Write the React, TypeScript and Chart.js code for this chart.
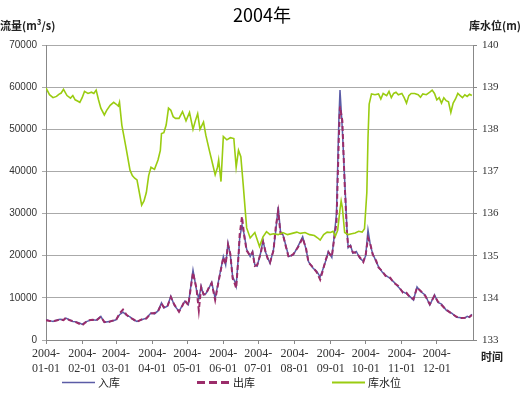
import React, { useEffect, useRef } from "react";
import { Chart, registerables } from "chart.js";

Chart.register(...registerables);

const TITLE = "2004年";
const monthStartDays = [0, 31, 60, 91, 121, 152, 182, 213, 244, 274, 305, 335];
const monthLabels = ["01-01", "02-01", "03-01", "04-01", "05-01", "06-01", "07-01", "08-01", "09-01", "10-01", "11-01", "12-01"];

const flowDays = [0, 3, 6, 9, 12, 15, 17, 20, 23, 26, 29, 31, 34, 37, 40, 43, 47, 50, 54, 57, 60, 63, 66, 69, 72, 75, 78, 82, 86, 90, 93, 96, 99, 101, 104, 107, 110, 114, 117, 119, 122, 126, 129, 131, 133, 135, 137, 140, 142, 145, 148, 152, 154, 156, 158, 160, 162, 163, 165, 166, 168, 170, 172, 175, 177, 179, 181, 184, 186, 188, 190, 192, 195, 197, 199, 201, 203, 205, 208, 212, 216, 220, 223, 225, 229, 232, 235, 237, 240, 242, 245, 247, 249, 251, 252, 254, 256, 258, 259, 261, 263, 266, 269, 272, 274, 276, 278, 280, 283, 285, 288, 291, 295, 298, 302, 306, 309, 312, 315, 318, 321, 325, 329, 333, 336, 339, 343, 348, 352, 356, 359, 361, 363, 365];

const inflow = [4800, 4600, 4400, 4700, 4900, 4800, 5200, 4800, 4400, 4300, 4000, 3700, 4300, 4600, 4800, 4700, 5600, 4200, 4400, 4500, 4800, 6000, 6600, 5900, 5500, 4800, 4400, 4800, 5200, 6400, 6200, 6900, 8800, 7600, 8000, 10400, 8200, 6800, 8300, 9200, 8400, 16600, 11900, 9800, 12800, 10700, 11000, 12500, 13700, 9900, 14200, 19800, 17800, 23000, 20200, 15000, 13800, 12800, 20200, 24100, 27300, 24900, 21500, 19800, 21000, 17800, 17500, 20700, 23700, 21000, 19500, 18200, 21500, 26000, 31600, 25700, 25000, 23000, 19800, 20200, 22200, 24500, 21400, 18600, 17000, 16300, 15000, 16500, 19000, 21000, 19600, 24500, 30000, 52000, 59300, 50000, 38000, 26100, 21900, 22500, 20600, 21000, 19400, 18700, 20000, 26100, 22500, 20500, 18600, 17400, 16200, 15400, 14600, 13800, 12600, 11400, 11000, 10300, 9500, 12600, 11500, 10700, 8300, 10700, 8900, 8500, 7100, 6300, 5400, 5300, 5200, 5600, 5400, 6100];

const outflow = [4700, 4500, 4500, 4600, 4900, 4700, 5300, 4700, 4500, 4200, 3800, 3500, 4200, 4700, 4800, 4600, 5500, 4300, 4300, 4600, 4700, 6300, 7200, 6000, 5300, 4900, 4300, 4900, 5100, 6300, 6400, 6800, 8600, 7800, 7900, 10200, 8400, 6700, 8200, 9400, 8300, 16000, 12200, 7000, 12500, 10900, 10800, 12700, 13500, 9500, 14000, 19600, 18000, 22600, 20400, 14600, 13200, 12300, 19800, 25000, 29300, 24500, 21200, 20000, 20800, 17600, 17800, 20500, 23300, 21200, 19300, 18400, 21200, 27000, 30500, 25200, 25200, 22800, 19600, 20400, 22000, 24200, 21600, 18400, 17200, 16100, 14300, 16200, 19200, 20800, 19800, 24000, 28000, 48000, 55400, 52000, 37000, 25500, 22200, 22300, 20800, 20700, 19600, 18500, 20200, 24200, 22800, 20300, 18800, 17200, 16400, 15200, 14800, 13600, 12800, 11200, 11200, 10100, 9700, 12400, 11700, 10500, 8500, 10500, 9100, 8300, 7200, 6200, 5500, 5200, 5300, 5400, 5500, 5900];

const levelDays = [0, 3, 6, 9, 11, 13, 15, 18, 21, 23, 25, 27, 29, 31, 33, 36, 39, 41, 43, 45, 47, 50, 52, 55, 58, 60, 62, 63, 65, 67, 69, 72, 74, 76, 78, 80, 82, 84, 86, 88, 90, 93, 96, 98, 99, 101, 103, 105, 107, 109, 111, 114, 117, 120, 123, 126, 128, 130, 132, 135, 137, 140, 142, 145, 147, 148, 150, 152, 155, 158, 161, 163, 165, 167, 169, 171, 172, 175, 179, 183, 186, 189, 192, 195, 199, 203, 207, 211, 215, 218, 222, 226, 230, 233, 235, 238, 241, 244, 246, 248, 250, 252, 253, 254, 256, 259, 262, 265, 268, 271, 273, 275, 276, 277, 279, 282, 285, 287, 289, 292, 294, 296, 298, 300, 302, 305, 307, 309, 311, 313, 316, 319, 321, 323, 326, 329, 331, 333, 335, 337, 339, 341, 343, 345, 347, 349, 351, 353, 355, 357, 359, 361, 363, 365];

const level = [138.98, 138.82, 138.75, 138.78, 138.83, 138.86, 138.95, 138.8, 138.74, 138.8, 138.7, 138.67, 138.64, 138.75, 138.9, 138.85, 138.88, 138.85, 138.93, 138.7, 138.5, 138.34, 138.45, 138.57, 138.64, 138.6, 138.55, 138.64, 138.1, 137.8, 137.5, 137.03, 136.9, 136.84, 136.8, 136.5, 136.2, 136.3, 136.5, 136.9, 137.1, 137.05, 137.27, 137.5, 137.9, 137.92, 138.1, 138.5, 138.45, 138.3, 138.26, 138.26, 138.42, 138.2, 138.4, 138.0, 138.2, 138.37, 138.0, 138.17, 137.86, 137.5, 137.27, 136.92, 137.1, 137.27, 136.76, 137.83, 137.75, 137.8, 137.78, 137.1, 137.5, 137.35, 136.7, 136.0, 135.66, 135.42, 135.55, 135.22, 135.45, 135.57, 135.5, 135.52, 135.5, 135.55, 135.5, 135.53, 135.56, 135.53, 135.55, 135.5, 135.48, 135.42, 135.37, 135.5, 135.56, 135.55, 135.58, 135.46, 135.6, 136.1, 136.3, 136.15, 135.55, 135.5, 135.52, 135.54, 135.58, 135.56, 135.64, 136.5, 137.8, 138.6, 138.84, 138.82, 138.84, 138.72, 138.85, 138.8, 138.9, 138.75, 138.85, 138.88, 138.82, 138.85, 138.75, 138.62, 138.8, 138.85, 138.85, 138.82, 138.76, 138.84, 138.82, 138.88, 138.93, 138.85, 138.7, 138.75, 138.62, 138.75, 138.68, 138.65, 138.4, 138.62, 138.72, 138.85, 138.8, 138.75, 138.82, 138.78, 138.83, 138.8];

const SERIES_NAMES = ["入库", "出库", "库水位"];
const COLORS = ["#5b5ca6", "#9b2c6a", "#9acc11"];

const CJK = "'Noto Sans CJK SC', sans-serif";

const overlayPlugin = {
  id: "overlay",
  afterDraw(chart: any) {
    const ctx = chart.ctx;
    ctx.save();
    ctx.fillStyle = "#000";
    ctx.textBaseline = "middle";
    ctx.textAlign = "center";
    ctx.font = `18px ${CJK}`;
    ctx.fillText(TITLE, 262, 15);

    ctx.font = `bold 11px ${CJK}`;
    ctx.textAlign = "left";
    ctx.fillStyle = "#222";
    ctx.fillText("流量(m³/s)", 0, 26);
    ctx.fillText("库水位(m)", 469, 26);
    ctx.textAlign = "center";
    ctx.fillText("时间", 492, 357);

    const items = [
      { x: 62, dash: [] as number[], w: 1.5 },
      { x: 197, dash: [8, 4], w: 3 },
      { x: 332, dash: [] as number[], w: 2 },
    ];
    const ly = 382.5;
    ctx.font = `11px ${CJK}`;
    ctx.textAlign = "left";
    items.forEach((it, i) => {
      ctx.beginPath();
      ctx.setLineDash(it.dash);
      ctx.strokeStyle = COLORS[i];
      ctx.lineWidth = it.w;
      ctx.moveTo(it.x, ly);
      ctx.lineTo(it.x + 33, ly);
      ctx.stroke();
      ctx.setLineDash([]);
      ctx.fillStyle = "#222";
      ctx.fillText(SERIES_NAMES[i], it.x + 36, ly);
    });
    ctx.restore();
  },
};

export default function App() {
  const ref = useRef<HTMLCanvasElement | null>(null);
  useEffect(() => {
    if (!ref.current) return;
    const toXY = (xs: number[], ys: number[]) => xs.map((x, i) => ({ x, y: ys[i] }));
    const chart = new Chart(ref.current, {
      type: "line",
      data: {
        datasets: [
          {
            label: SERIES_NAMES[2],
            data: toXY(levelDays, level),
            borderColor: COLORS[2],
            borderWidth: 1.6,
            pointRadius: 0,
            yAxisID: "y1",
            order: 0,
          },
          {
            label: SERIES_NAMES[1],
            data: toXY(flowDays, outflow),
            borderColor: COLORS[1],
            borderWidth: 2,
            borderDash: [5, 3],
            pointRadius: 0,
            yAxisID: "y",
            order: 1,
          },
          {
            label: SERIES_NAMES[0],
            data: toXY(flowDays, inflow),
            borderColor: COLORS[0],
            borderWidth: 1.5,
            pointRadius: 0,
            yAxisID: "y",
            order: 2,
          },
        ],
      },
      options: {
        responsive: false,
        animation: false,
        events: [],
        layout: { padding: { left: 0, right: 0, top: 45, bottom: 20 } },
        plugins: { legend: { display: false }, title: { display: false }, tooltip: { enabled: false } },
        scales: {
          x: {
            type: "linear",
            min: 0,
            max: 366,
            afterBuildTicks: (scale: any) => {
              scale.ticks = monthStartDays.map((v) => ({ value: v }));
            },
            afterFit: (scale: any) => {
              scale.height = 33;
            },
            ticks: {
              autoSkip: false,
              maxRotation: 0,
              padding: 2,
              color: "#333",
              font: { family: "'Liberation Serif', serif", size: 12, lineHeight: 1.25 },
              callback: (_v: any, i: number) => ["2004-", monthLabels[i]],
            },
            grid: { drawOnChartArea: false, drawTicks: true, tickLength: 4, color: "#888" },
            border: { display: true, color: "#888" },
          },
          y: {
            position: "left",
            min: 0,
            max: 70000,
            afterFit: (scale: any) => {
              scale.width = 46;
            },
            ticks: {
              stepSize: 10000,
              padding: 5,
              color: "#333",
              font: { family: "'Liberation Sans', sans-serif", size: 10 },
              callback: (v: any) => String(v),
            },
            grid: { color: "#aaaaaa", lineWidth: 1, tickLength: 4 },
            border: { display: true, color: "#888" },
          },
          y1: {
            position: "right",
            min: 133,
            max: 140,
            afterFit: (scale: any) => {
              scale.width = 47;
            },
            ticks: {
              stepSize: 1,
              padding: 5,
              color: "#333",
              font: { family: "'Liberation Serif', serif", size: 11 },
              callback: (v: any) => String(v),
            },
            grid: { drawOnChartArea: false, tickLength: 4, color: "#888" },
            border: { display: true, color: "#888" },
          },
        },
      },
      plugins: [overlayPlugin],
    } as any);
    return () => chart.destroy();
  }, []);
  return (
    <div style={{ position: "absolute", left: 0, top: 0, width: 520, height: 393, background: "#fff" }}>
      <canvas ref={ref} width={520} height={393} style={{ display: "block" }} />
    </div>
  );
}
